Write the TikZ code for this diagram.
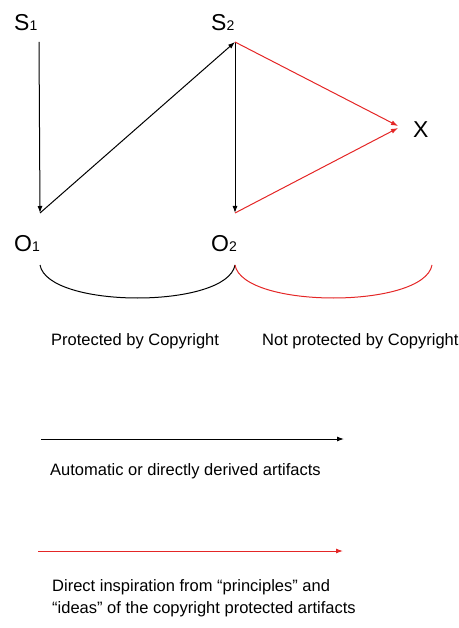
\documentclass[tikz,border=0pt]{standalone}
\usepackage{fontspec}
\setmainfont{Liberation Sans}
\usetikzlibrary{arrows.meta}
\definecolor{myred}{RGB}{228,38,38}
\tikzset{
  big/.style={anchor=base west,inner sep=0pt,font=\fontsize{23}{27}\selectfont},
  txt/.style={anchor=base west,inner sep=0pt,font=\fontsize{16.5}{22}\selectfont,align=left},
  conn/.style={line width=1pt,-{Latex[length=7pt,width=5pt]}},
  redconn/.style={conn,draw=myred},
  arcline/.style={line width=1pt}
}
\newcommand{\sbs}[1]{{\fontsize{14}{16}\selectfont #1}}
\begin{document}
\begin{tikzpicture}[x=1pt,y=1pt]
\useasboundingbox (0,0) rectangle (458,-628);
% labels
\node[big] (S1) at (14,-31) {S\sbs{1}};
\node[big] (S2) at (211,-31) {S\sbs{2}};
\node[big] (X) at (413,-138) {X};
\node[big] (O1) at (14,-251) {O\sbs{1}};
\node[big] (O2) at (211,-251) {O\sbs{2}};
% points
\coordinate (s1p) at (39,-42);
\coordinate (o1p) at (40,-213);
\coordinate (s2p) at (235,-42);
\coordinate (o2p) at (235,-213);
\coordinate (xa) at (398,-126);
\coordinate (xb) at (398,-128);
% connectors
\draw[conn] (s1p) -- (o1p);
\draw[conn] (o1p) -- (s2p);
\draw[conn] (s2p) -- (o2p);
\draw[redconn] (s2p) -- (xa);
\draw[redconn] (o2p) -- (xb);
% braces
\coordinate (a1) at (40,-265);
\coordinate (a2) at (235,-265);
\coordinate (a3) at (432,-265);
\draw[arcline] (a1) .. controls (48,-309) and (227,-309) .. (a2);
\draw[arcline,draw=myred] (a2) .. controls (243,-309) and (424,-309) .. (a3);
% captions
\node[txt] (prot) at (51,-345) {Protected by Copyright};
\node[txt] (notprot) at (262,-345) {Not protected by Copyright};
% legend
\coordinate (l1a) at (41,-439);
\coordinate (l1b) at (344,-439);
\draw[conn] (l1a) -- (l1b);
\node[txt] (auto) at (50,-475) {Automatic or directly derived artifacts};
\coordinate (l2a) at (38,-551);
\coordinate (l2b) at (343,-551);
\draw[redconn] (l2a) -- (l2b);
\node[txt,anchor=north west] (insp) at (52,-579.5) {Direct inspiration from “principles” and\\“ideas” of the copyright protected artifacts};
\end{tikzpicture}
\end{document}
